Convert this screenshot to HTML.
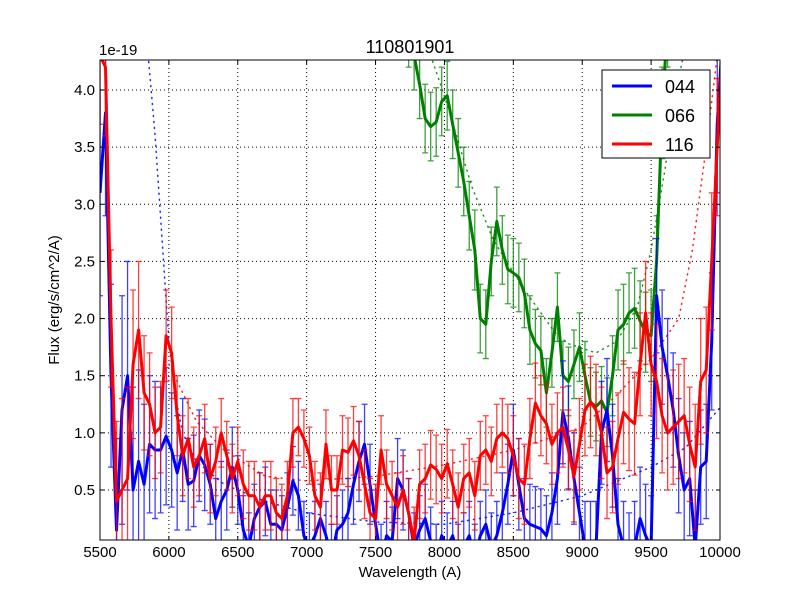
<!DOCTYPE html>
<html><head><meta charset="utf-8"><style>
body{margin:0;background:#fff;}
svg text{font-family:"Liberation Sans",sans-serif;}
</style></head><body>
<svg id="chart" width="800" height="600" viewBox="0 0 800 600" xmlns="http://www.w3.org/2000/svg">
<rect x="0" y="0" width="800" height="600" fill="#fff"/>
<defs><clipPath id="plot-clip"><rect x="100" y="60" width="620" height="480"/></clipPath></defs>
<g id="grid"></g>
<g id="plot" clip-path="url(#plot-clip)"></g>
<rect x="100" y="60" width="620" height="480" fill="none" stroke="#000" stroke-width="1"/>
<g id="ticks"></g>
<text x="410" y="53" font-size="18" text-anchor="middle">110801901</text>
<text x="99" y="55" font-size="15">1e-19</text>
<text x="410" y="577" font-size="15" text-anchor="middle">Wavelength (A)</text>
<text x="59" y="300" font-size="15" text-anchor="middle" transform="rotate(-90 59 300)">Flux (erg/s/cm^2/A)</text>
<g>
<rect x="602" y="70" width="108" height="88" fill="#fff" stroke="#000" stroke-width="1"/>
<line x1="612" y1="86" x2="652" y2="86" stroke="#0000ff" stroke-width="3"/>
<text x="665" y="93" font-size="18">044</text>
<line x1="612" y1="115" x2="652" y2="115" stroke="#008000" stroke-width="3"/>
<text x="665" y="122" font-size="18">066</text>
<line x1="612" y1="144" x2="652" y2="144" stroke="#ff0000" stroke-width="3"/>
<text x="665" y="151" font-size="18">116</text>
</g>
</svg>
<script>
const xTicks=[5500,6000,6500,7000,7500,8000,8500,9000,9500,10000];
const yTicks=[0.5,1.0,1.5,2.0,2.5,3.0,3.5,4.0];
const waveStart=5500, waveStep=40;
const blueVals=[3.1,3.8,1.5,0.15,1.2,1.5,0.5,0.75,0.55,0.9,0.85,0.85,0.97,0.85,0.65,0.85,0.55,0.58,0.8,0.72,0.55,0.25,0.4,0.5,0.7,0.5,0.15,0.0,0.25,0.35,0.4,0.2,0.2,0.15,0.35,0.58,0.45,0.1,0.0,0.1,0.25,0.1,-0.1,0.15,0.2,0.3,0.55,0.75,0.9,0.55,0.2,-0.1,0.1,0.05,0.6,0.5,0.3,0.0,0.15,0.25,0.05,-0.1,0.1,0.0,0.1,-0.1,0.0,0.1,-0.1,0.1,0.2,0.0,0.1,0.3,0.55,0.85,0.55,0.25,0.2,0.18,0.16,0.1,0.3,0.6,1.18,0.96,0.6,0.3,0.0,0.0,0.0,1.0,1.2,0.8,0.2,0.0,-0.1,0.0,0.25,0.1,0.0,2.2,1.75,1.5,1.2,0.8,0.5,0.6,0.0,0.7,0.75,1.8,3.7,4.5];
const blueErr=[0.9,0.9,0.8,0.8,1.0,1.0,0.9,0.8,0.7,0.6,0.6,0.55,0.6,0.5,0.5,0.45,0.4,0.4,0.4,0.4,0.35,0.35,0.35,0.35,0.35,0.3,0.3,0.3,0.3,0.3,0.3,0.3,0.3,0.3,0.3,0.3,0.3,0.3,0.3,0.3,0.3,0.3,0.3,0.3,0.3,0.3,0.35,0.35,0.35,0.35,0.3,0.3,0.3,0.3,0.35,0.35,0.3,0.3,0.3,0.3,0.3,0.3,0.3,0.3,0.3,0.3,0.3,0.3,0.3,0.3,0.3,0.3,0.3,0.35,0.35,0.4,0.4,0.35,0.35,0.35,0.35,0.35,0.35,0.4,0.45,0.45,0.4,0.4,0.4,0.4,0.4,0.45,0.45,0.45,0.4,0.4,0.4,0.4,0.45,0.45,0.45,0.5,0.5,0.5,0.5,0.5,0.5,0.5,0.5,0.5,0.5,0.6,0.6,0.6];
const redVals=[4.3,4.2,2.0,0.4,0.5,0.6,1.6,1.9,1.35,1.25,1.0,1.05,1.85,1.7,1.15,0.8,0.95,0.7,0.8,0.95,0.6,0.75,1.0,0.8,0.6,0.75,0.55,0.45,0.45,0.35,0.45,0.45,0.3,0.25,0.45,1.0,1.05,0.95,0.8,0.45,0.35,0.9,0.5,0.5,0.85,0.83,0.93,0.8,0.55,0.3,0.25,0.85,0.55,0.45,0.35,0.5,0.3,0.05,0.55,0.6,0.72,0.68,0.6,0.73,0.55,0.35,0.6,0.65,0.45,0.8,0.85,0.75,0.95,1.0,0.95,0.8,0.6,0.55,0.95,1.26,1.15,1.08,0.9,1.0,1.05,0.85,0.62,0.9,1.2,1.27,1.2,1.0,0.65,0.7,0.95,1.18,1.12,1.08,1.6,2.05,1.6,1.45,1.15,1.0,1.05,1.1,1.15,0.9,0.7,1.45,1.55,2.5,3.5,4.5];
const redErr=[0.6,0.6,0.6,0.7,0.8,0.8,0.65,0.6,0.5,0.45,0.4,0.4,0.4,0.4,0.35,0.35,0.35,0.35,0.35,0.3,0.3,0.3,0.3,0.3,0.3,0.3,0.3,0.3,0.3,0.3,0.3,0.3,0.3,0.3,0.3,0.3,0.25,0.25,0.25,0.3,0.3,0.3,0.3,0.3,0.3,0.3,0.3,0.3,0.3,0.3,0.3,0.3,0.3,0.3,0.3,0.3,0.3,0.3,0.3,0.3,0.3,0.3,0.3,0.3,0.3,0.3,0.3,0.3,0.3,0.3,0.3,0.3,0.3,0.3,0.3,0.35,0.35,0.35,0.35,0.35,0.35,0.35,0.35,0.35,0.35,0.35,0.4,0.4,0.4,0.4,0.4,0.4,0.4,0.4,0.4,0.45,0.45,0.45,0.45,0.45,0.45,0.5,0.5,0.5,0.5,0.5,0.5,0.5,0.55,0.55,0.55,0.6,0.6,0.6];
const greenStartIndex=56;
const greenVals=[4.5,4.3,4.05,3.75,3.68,3.72,3.9,3.95,3.7,3.45,3.2,2.9,2.6,2.0,1.95,2.5,2.85,2.6,2.43,2.4,2.36,2.22,1.9,1.78,1.72,1.35,1.7,2.1,1.5,1.45,1.6,1.75,1.5,1.27,1.23,1.28,1.18,1.5,1.9,1.95,2.05,2.09,1.98,1.88,1.85,2.5,3.8,4.6];
const greenErr=[0.3,0.3,0.3,0.3,0.3,0.3,0.3,0.3,0.3,0.3,0.3,0.3,0.35,0.3,0.3,0.3,0.3,0.3,0.3,0.3,0.3,0.3,0.3,0.3,0.3,0.3,0.3,0.3,0.3,0.3,0.3,0.3,0.3,0.3,0.3,0.3,0.3,0.35,0.35,0.35,0.35,0.35,0.35,0.35,0.4,0.4,0.4,0.4];
const blueModelWave=[5850,5900,5950,6000,6050,6100,6200,6400,6700,7000,7500,8000,8500,9000,9500,9750,10000];
const blueModelVals=[4.3,3.6,2.7,1.8,1.3,1.0,0.75,0.55,0.4,0.3,0.22,0.2,0.3,0.45,0.7,0.87,1.22];
const redModelWave=[6000,6200,6400,6700,7000,7500,8000,8500,9000,9250,9500,9700,9800,9900,10000];
const redModelVals=[1.6,1.1,0.85,0.62,0.58,0.62,0.72,0.85,1.05,1.33,1.65,2.0,2.6,3.5,4.5];
const greenModelWave=[7900,8000,8200,8350,8450,8600,8800,8900,9100,9250,9400,9500,9600,9700,9750];
const greenModelVals=[4.3,3.95,3.15,2.7,2.5,2.22,1.88,1.78,1.7,1.8,2.1,2.6,3.3,4.1,4.4];

const NS='http://www.w3.org/2000/svg';
const X0=100,X1=720,Y0=540,Y1=60,XMIN=5500,XMAX=10000,YMIN=0.0625,YMAX=4.2625;
function sx(w){return X0+(w-XMIN)/(XMAX-XMIN)*(X1-X0);}
function sy(v){return Y0-(v-YMIN)/(YMAX-YMIN)*(Y0-Y1);}
function mk(tag,attrs,parent){const e=document.createElementNS(NS,tag);for(const k in attrs)e.setAttribute(k,attrs[k]);parent.appendChild(e);return e;}
const grid=document.getElementById('grid'),plot=document.getElementById('plot'),ticks=document.getElementById('ticks');
xTicks.forEach(t=>{const x=sx(t);
 if(t>XMIN&&t<XMAX){const g=mk('line',{x1:x,y1:Y1,x2:x,y2:Y0,stroke:'#000','stroke-dasharray':'1,3','stroke-width':1},grid);
 
 }
 const a=mk('line',{x1:x,y1:Y0,x2:x,y2:Y0-4,stroke:'#000'},ticks);
 
 
 const b=mk('line',{x1:x,y1:Y1,x2:x,y2:Y1+4,stroke:'#000'},ticks);
 
 
 const l=mk('text',{x:x,y:Y0+17,'font-size':15,'text-anchor':'middle'},ticks);l.textContent=t;
 
 
});
yTicks.forEach(t=>{const y=sy(t);
 const g=mk('line',{x1:X0,y1:y,x2:X1,y2:y,stroke:'#000','stroke-dasharray':'1,3','stroke-width':1},grid);
 
 
 const a=mk('line',{x1:X0,y1:y,x2:X0+4,y2:y,stroke:'#000'},ticks);
 
 
 const b=mk('line',{x1:X1,y1:y,x2:X1-4,y2:y,stroke:'#000'},ticks);
 
 
 const l=mk('text',{x:X0-5,y:y+5,'font-size':15,'text-anchor':'end'},ticks);l.textContent=t.toFixed(1);
 
 
});
function drawModel(waves,vals,color,name){
 const d=waves.map((w,i)=>(i?'L':'M')+sx(w).toFixed(1)+','+sy(vals[i]).toFixed(1)).join('');
 const p=mk('path',{d:d,fill:'none',stroke:color,'stroke-width':1.5,'stroke-dasharray':'1,5','stroke-linecap':'round','stroke-opacity':0.85},plot);
 
 
}
function drawSeries(vals,errs,startIdx,color,name){
 vals.forEach((v,i)=>{const w=waveStart+(startIdx+i)*waveStep,x=sx(w),e=errs[i];
  const g=mk('path',{d:`M${x},${sy(v-e)}L${x},${sy(v+e)}M${x-3},${sy(v-e)}L${x+3},${sy(v-e)}M${x-3},${sy(v+e)}L${x+3},${sy(v+e)}`,stroke:color,'stroke-width':1.3,'stroke-opacity':0.75,fill:'none'},plot);
  
  
 });
 const d=vals.map((v,i)=>(i?'L':'M')+sx(waveStart+(startIdx+i)*waveStep).toFixed(1)+','+sy(v).toFixed(1)).join('');
 const p=mk('path',{d:d,fill:'none',stroke:color,'stroke-width':3,'stroke-linejoin':'round'},plot);
 
 
}
drawModel(blueModelWave,blueModelVals,'#0000ff','model-044');
drawModel(redModelWave,redModelVals,'#ff0000','model-116');
drawModel(greenModelWave,greenModelVals,'#008000','model-066');
drawSeries(greenVals,greenErr,greenStartIndex,'#008000','series-066');
drawSeries(blueVals,blueErr,0,'#0000ff','series-044');
drawSeries(redVals,redErr,0,'#ff0000','series-116');
</script>
</body></html>
